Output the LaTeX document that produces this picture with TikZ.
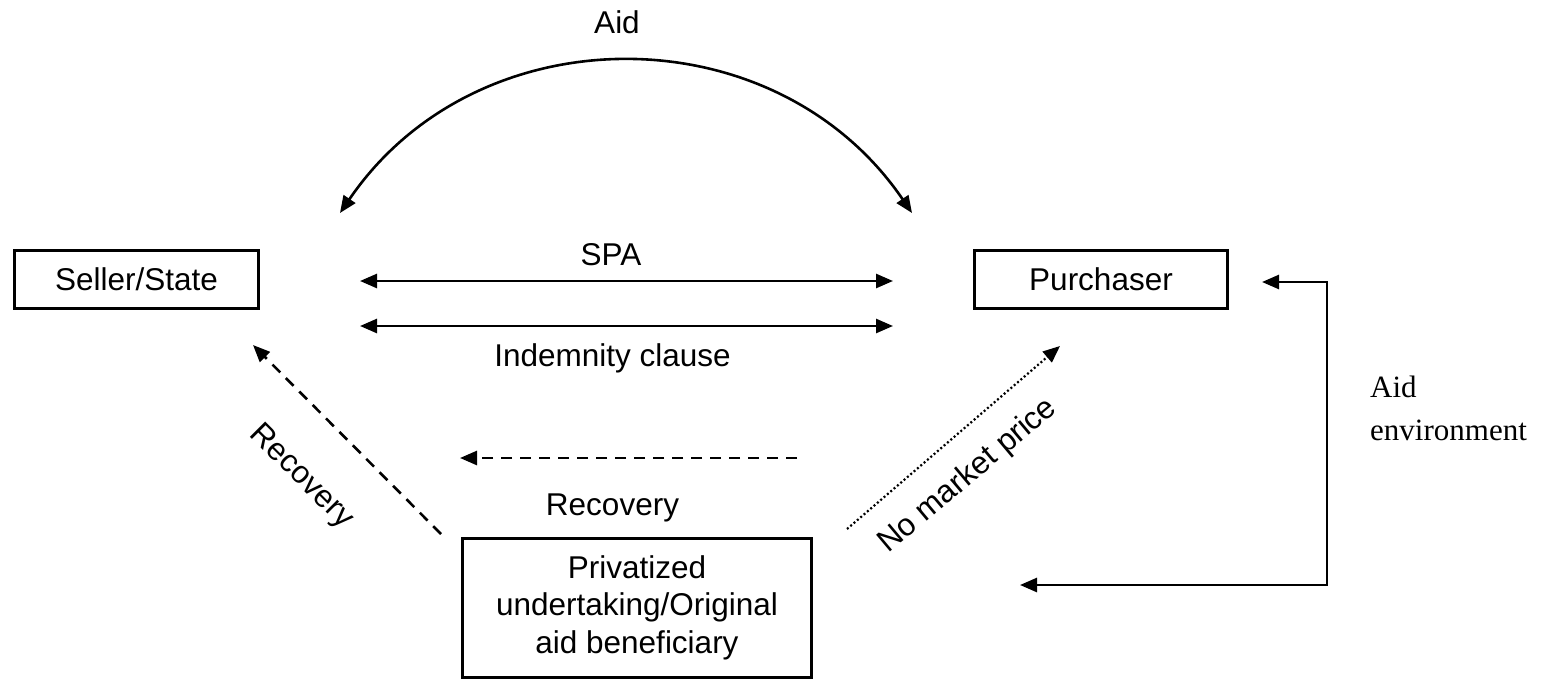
\documentclass[tikz,border=0pt]{standalone}
\usepackage{fontspec}
\setmainfont{Liberation Sans}
\newfontfamily\timesfont{Liberation Serif}
\usetikzlibrary{arrows.meta}
\begin{document}
\begin{tikzpicture}[x=1pt,y=-1pt,
  box/.style={draw, line width=3pt, inner sep=0pt, align=center,
    font=\fontsize{31.5}{37.5}\selectfont},
  lbl/.style={inner sep=0pt, font=\fontsize{31.5}{37.5}\selectfont},
  serlbl/.style={inner sep=0pt, anchor=base west, font=\timesfont\fontsize{31}{37.5}\selectfont},
  conn/.style={line width=2.6pt, -{Triangle[length=17pt,width=14pt]}},
  biconn/.style={line width=2.6pt, {Triangle[length=17pt,width=14pt]}-{Triangle[length=17pt,width=14pt]}},
  dashconn/.style={conn, dash pattern=on 11pt off 8pt},
  dotconn/.style={conn, line width=2.2pt, dash pattern=on 2pt off 2.4pt}]
\useasboundingbox (0,0) rectangle (1553,680);

% boxes
\node[box, minimum width=244pt, minimum height=58pt] (seller) at (136.5,279.5) {Seller/State};
\node[box, minimum width=253pt, minimum height=58pt] (purch) at (1101,279.5) {Purchaser};
\node[box, minimum width=349pt, minimum height=139pt] (priv) at (637,607.5)
  {Privatized\\undertaking/Original\\aid beneficiary};

% labels
\node[lbl] (aidlbl) at (617,22.5) {Aid};
\node[lbl] (spalbl) at (611,255) {SPA};
\node[lbl] (indlbl) at (612.5,358) {Indemnity clause};
\node[lbl] (reclbl) at (612.5,507.5) {Recovery};
\node[lbl, rotate=-45] (reclbl2) at (301,477) {Recovery};
\node[lbl, rotate=40] (nmplbl) at (968,476) {No market price};
\node[serlbl] (envlbl1) at (1370,397) {Aid};
\node[serlbl] (envlbl2) at (1370,440) {environment};

% connector end points
\coordinate (arcL) at (340,213);
\coordinate (arcR) at (912,213);
\coordinate (spaL) at (360,281);
\coordinate (spaR) at (893,281);
\coordinate (indL) at (360,326);
\coordinate (indR) at (893,326);
\coordinate (recS) at (797,458);
\coordinate (recE) at (460,458);
\coordinate (rec2S) at (441,534);
\coordinate (rec2E) at (253,345);
\coordinate (nmpS) at (847,529);
\coordinate (nmpE) at (1060,346);
\coordinate (envT) at (1262,282);
\coordinate (envC1) at (1327,282);
\coordinate (envC2) at (1327,585);
\coordinate (envB) at (1020,585);

% connectors
\draw[biconn] (arcL) .. controls (477,12) and (775,12) .. (arcR);
\draw[biconn] (spaL) -- (spaR);
\draw[biconn] (indL) -- (indR);
\draw[dashconn] (recS) -- (recE);
\draw[dashconn] (rec2S) -- (rec2E);
\draw[dotconn] (nmpS) -- (nmpE);
\draw[biconn] (envT) -- (envC1) -- (envC2) -- (envB);
\end{tikzpicture}
\end{document}
